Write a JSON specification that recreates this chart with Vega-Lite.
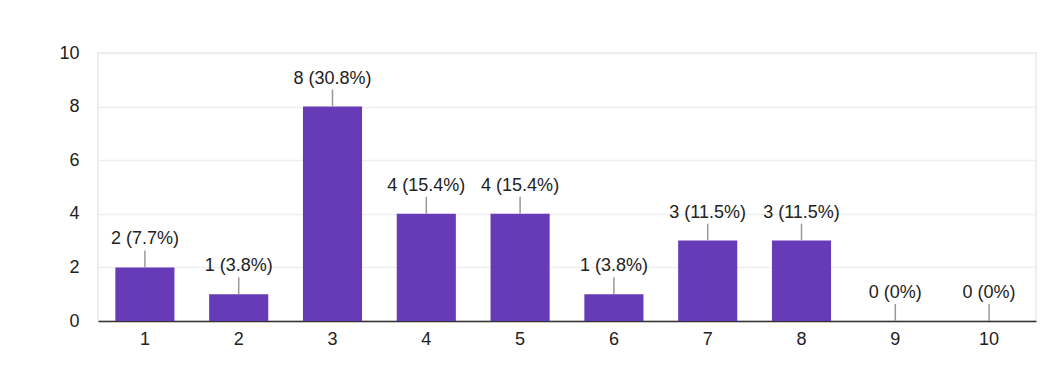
{
  "$schema": "https://vega.github.io/schema/vega-lite/v6.json",
  "width": 938,
  "height": 268,
  "autosize": {"type": "none"},
  "padding": {"left": 98, "top": 53, "right": 27, "bottom": 54},
  "background": "white",
  "config": {
    "font": "Liberation Sans",
    "view": {"stroke": "#eeeeee", "strokeWidth": 2},
    "axis": {"labelFont": "Liberation Sans", "labelFontSize": 18, "labelColor": "#222222"}
  },
  "data": {
    "values": [
      {"option": "1", "count": 2, "label": "2 (7.7%)"},
      {"option": "2", "count": 1, "label": "1 (3.8%)"},
      {"option": "3", "count": 8, "label": "8 (30.8%)"},
      {"option": "4", "count": 4, "label": "4 (15.4%)"},
      {"option": "5", "count": 4, "label": "4 (15.4%)"},
      {"option": "6", "count": 1, "label": "1 (3.8%)"},
      {"option": "7", "count": 3, "label": "3 (11.5%)"},
      {"option": "8", "count": 3, "label": "3 (11.5%)"},
      {"option": "9", "count": 0, "label": "0 (0%)"},
      {"option": "10", "count": 0, "label": "0 (0%)"}
    ]
  },
  "encoding": {
    "x": {
      "field": "option", "type": "ordinal", "sort": null,
      "scale": {"paddingInner": 0.37, "paddingOuter": 0.185},
      "axis": {"title": null, "labelAngle": 0, "ticks": false, "labelPadding": 9, "domainColor": "#333333", "domainWidth": 1.5, "grid": false}
    }
  },
  "layer": [
    {
      "mark": {"type": "bar", "color": "#673ab7"},
      "encoding": {
        "y": {
          "field": "count", "type": "quantitative",
          "scale": {"domain": [0, 10], "nice": false},
          "axis": {"title": null, "values": [0, 2, 4, 6, 8, 10], "ticks": false, "labelPadding": 19, "domain": false, "gridColor": "#eeeeee", "gridWidth": 1.5}
        }
      }
    },
    {
      "mark": {"type": "rule", "color": "#999999", "strokeWidth": 1.5, "y2Offset": -17},
      "encoding": {
        "y": {"field": "count", "type": "quantitative"},
        "y2": {"field": "count"}
      }
    },
    {
      "mark": {"type": "text", "fontSize": 18, "color": "#222222", "baseline": "middle", "dy": -28},
      "encoding": {
        "y": {"field": "count", "type": "quantitative"},
        "text": {"field": "label"}
      }
    }
  ]
}
